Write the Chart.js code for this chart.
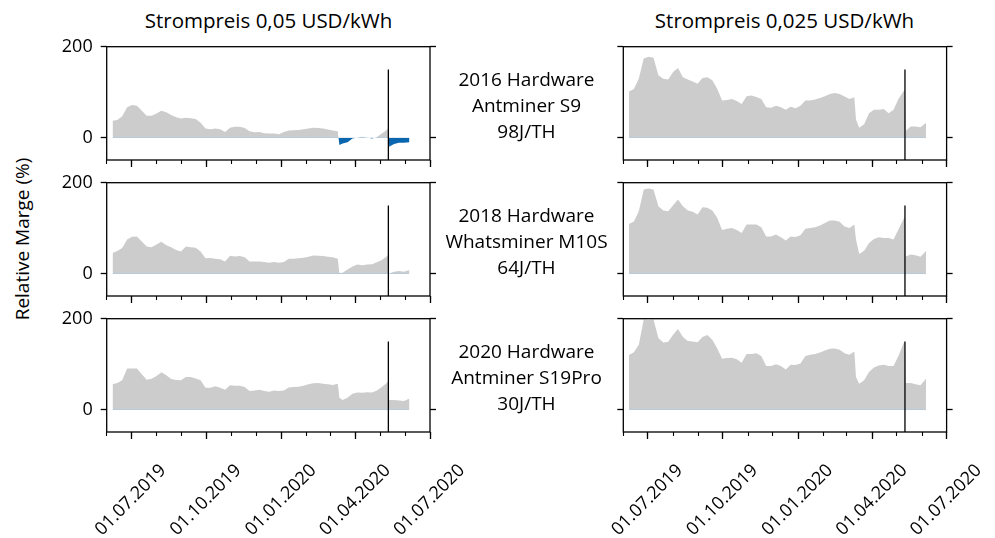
<!DOCTYPE html>
<html>
<head>
<meta charset="utf-8">
<script src="https://cdn.jsdelivr.net/npm/chart.js@4.4.1/dist/chart.umd.min.js"></script>
<style>
body { margin:0; background:#fff; width:995px; height:538px; overflow:hidden; position:relative; font-family:'Open Sans', sans-serif; color:#000; }
.box { position:absolute; }
.txt { position:absolute; font-size:19px; line-height:26px; text-align:center; white-space:nowrap; }
.ttl { font-size:20.5px; }
</style>
</head>
<body>
<div class="box" style="left:40px;top:37px;width:440px;height:143px"><canvas id="c1"></canvas></div>
<div class="box" style="left:555px;top:37px;width:440px;height:143px"><canvas id="c2"></canvas></div>
<div class="box" style="left:40px;top:173px;width:440px;height:143px"><canvas id="c3"></canvas></div>
<div class="box" style="left:555px;top:173px;width:440px;height:143px"><canvas id="c4"></canvas></div>
<div class="box" style="left:40px;top:309px;width:440px;height:229px"><canvas id="c5"></canvas></div>
<div class="box" style="left:555px;top:309px;width:440px;height:229px"><canvas id="c6"></canvas></div>

<div class="txt ttl" style="left:107px;width:323px;top:7px">Strompreis 0,05 USD/kWh</div>
<div class="txt ttl" style="left:623px;width:323px;top:7px">Strompreis 0,025 USD/kWh</div>
<div class="txt" style="left:440px;width:173px;top:66px">2016 Hardware<br>Antminer S9<br>98J/TH</div>
<div class="txt" style="left:440px;width:173px;top:202px">2018 Hardware<br>Whatsminer M10S<br>64J/TH</div>
<div class="txt" style="left:440px;width:173px;top:338px">2020 Hardware<br>Antminer S19Pro<br>30J/TH</div>
<div class="txt" style="left:-68px;width:180px;top:226px;font-size:19px;transform:rotate(-90deg)">Relative Marge (%)</div>

<script>
// Stichtage (gemeinsam fuer alle Panels)
const dates = [
  '2019-06-08','2019-06-14','2019-06-20','2019-06-26','2019-07-02','2019-07-08','2019-07-14','2019-07-20','2019-07-26','2019-08-01',
  '2019-08-07','2019-08-13','2019-08-19','2019-08-25','2019-08-31','2019-09-06','2019-09-12','2019-09-18','2019-09-24','2019-09-30',
  '2019-10-06','2019-10-12','2019-10-18','2019-10-24','2019-10-30','2019-11-05','2019-11-11','2019-11-17','2019-11-23','2019-11-29',
  '2019-12-05','2019-12-11','2019-12-17','2019-12-23','2019-12-29','2020-01-04','2020-01-10','2020-01-16','2020-01-22','2020-01-28',
  '2020-02-03','2020-02-09','2020-02-15','2020-02-21','2020-02-27','2020-03-04','2020-03-10','2020-03-12','2020-03-16','2020-03-22',
  '2020-03-28','2020-04-03','2020-04-09','2020-04-15','2020-04-21','2020-04-27','2020-05-03','2020-05-09','2020-05-11','2020-05-12',
  '2020-05-18','2020-05-24','2020-05-30','2020-06-06'
];

// Strompreis 0,05 USD/kWh
const margin005_S9 = [
  37, 39, 47, 67, 72, 70, 59, 48, 48, 53,
  59, 56, 50, 45, 42, 44, 43, 41, 33, 20,
  18.5, 20, 18.5, 12.6, 22, 24, 24, 21.5, 14, 12,
  12.6, 10, 9, 9, 7.4, 12.6, 15.6, 16.3, 17, 18.5,
  20, 22, 21.5, 20, 17.8, 15.6, 14, -16, -13, -10,
  -2, 0.7, 2, 0.7, -1.5, 1.5, 9, 17, 21.5, -20,
  -14, -11, -11, -10
];
const margin005_M10S = [
  45.6, 50, 56.6, 75, 81, 81.6, 71, 60, 58, 64,
  70, 62.5, 58, 52, 49, 60, 58, 57, 49, 34,
  34.5, 33, 31.6, 27, 39.7, 38, 39, 36, 27, 27,
  27, 25.7, 24, 25.7, 24, 25.7, 33, 33, 34, 35,
  37.5, 40, 39.7, 39, 37.5, 36, 33, 1.5, 2, 9,
  16, 20, 18.4, 20, 21, 25, 30, 38, 42, 0.5,
  4.4, 6, 4.4, 8
];
const margin005_S19Pro = [
  55.7, 58.7, 64.6, 90.6, 90.6, 90.6, 78, 66, 68, 74,
  82.5, 75.8, 67.6, 65.4, 64.6, 72, 72, 68.4, 64.6, 48.3,
  48.3, 51.3, 48.3, 43.8, 53.5, 52.8, 52.8, 49.8, 40.9, 42.4,
  43.8, 40.9, 39.4, 42.4, 40.9, 42.4, 49, 49.8, 50.5, 52.8,
  55.7, 58, 58.7, 57.2, 55.7, 54.2, 57, 26, 21.5, 26,
  35, 37.9, 37.2, 38.6, 37.9, 42.4, 49.8, 58.7, 63, 21.5,
  21.5, 20, 19.3, 24.5
];

// Strompreis 0,025 USD/kWh
const margin0025_S9 = [
  101.5, 107, 130, 174, 178, 175.6, 137, 129.7, 128, 144.5,
  153, 133, 128, 123.7, 118.6, 131, 133, 126, 107.4, 81.5,
  83, 85, 80.8, 74, 91, 92.6, 89.7, 85, 66.7, 66,
  70.4, 66.7, 61.5, 68, 64.5, 70.4, 81.5, 82, 83.7, 87.4,
  91, 96, 98.5, 96, 90.4, 85, 89, 40, 22, 29.6,
  54, 61.5, 61.5, 63, 54, 61.5, 85, 101.5, 106, 14.8,
  24.5, 24.5, 23, 33
];
const margin0025_M10S = [
  109.5, 115, 137, 185, 187, 185, 148.5, 139, 137.5, 150.7,
  163, 148.5, 139, 136, 130, 146, 145, 139, 122.7, 96,
  99, 100.7, 96, 89.7, 108, 108, 108, 102, 81.6, 81.6,
  86, 80, 72.8, 81.6, 80.8, 84.5, 99, 100.7, 102, 106,
  111.7, 117, 117, 114, 104, 100.7, 108, 75, 43.4, 50.7,
  67.6, 76.4, 80, 78.6, 78.6, 75, 97, 119, 126.4, 38,
  42, 40.4, 37.5, 50.7
];
const margin0025_S19Pro = [
  120.4, 126.3, 142.7, 198, 197, 198, 157.5, 147.9, 149.3, 165,
  177.6, 159.7, 150.8, 150, 148, 159.7, 164, 153.8, 135.2, 112,
  113.7, 114.4, 110.7, 103, 122.5, 122.5, 124, 118, 95.8, 95.8,
  100, 95.8, 88.4, 98.8, 98, 101.8, 118, 121, 122.5, 125.5,
  130, 133.7, 134.5, 131.5, 124, 121, 128, 72, 57, 64.6,
  83, 92.8, 97.3, 98.8, 95.8, 95.8, 118, 145, 150, 58.7,
  58.7, 55.7, 53.5, 68.4
];

const yTicks = [0, 200];
const yMin = -49, yMax = 200;
const startDate = '2019-06-01', endDate = '2020-07-01';
const halvingDate = '2020-05-11';
const halvingTop = 150;

function dayNum(s){
  var p = s.split('-');
  return (Date.UTC(+p[0], +p[1]-1, +p[2]) - Date.UTC(2019, 5, 1)) / 86400000;
}

// Monats- und Quartalsticks
var monthTicks = [], quarterTicks = [], tickLabels = {};
for(var i = 0; i <= 13; i++){
  var dt = new Date(Date.UTC(2019, 5 + i, 1));
  var v = (dt.getTime() - Date.UTC(2019, 5, 1)) / 86400000;
  monthTicks.push(v);
  if(dt.getUTCMonth() % 3 === 0){
    quarterTicks.push(v);
    var mm = ('0' + (dt.getUTCMonth() + 1)).slice(-2);
    tickLabels[v] = '01.' + mm + '.' + dt.getUTCFullYear();
  }
}

var framePlugin = {
  id: 'frame',
  afterDraw: function(chart){
    var a = chart.chartArea, c = chart.ctx;
    c.save();
    c.strokeStyle = '#000';
    c.lineWidth = 1.3;
    c.strokeRect(a.left, a.top, a.right - a.left, a.bottom - a.top);
    c.restore();
  }
};

function panel(id, values, col, row){
  var bottomRow = row === 2;
  var yWidth = col === 0 ? 66.7 : 68.3;
  var padRight = col === 0 ? 50 : 48.4;
  var xAxisH = bottomRow ? 106 : 20;
  var tickFont = { family: 'Open Sans', size: 18 };

  new Chart(document.getElementById(id), {
    type: 'line',
    data: {
      datasets: [{
        data: dates.map(function(d, i){ return { x: dayNum(d), y: values[i] }; }),
        borderWidth: 0,
        pointRadius: 0,
        tension: 0,
        fill: { target: 'origin', above: '#cccccc', below: '#0b66b0' },
        order: 2
      }, {
        data: [{ x: dayNum(halvingDate), y: yMin }, { x: dayNum(halvingDate), y: halvingTop }],
        borderColor: '#000',
        borderWidth: 1.3,
        pointRadius: 0,
        fill: false,
        order: 1
      }]
    },
    options: {
      responsive: true,
      maintainAspectRatio: false,
      animation: false,
      events: [],
      layout: { padding: { top: 9.7, right: padRight, left: 0, bottom: 0 } },
      plugins: { legend: { display: false }, tooltip: { enabled: false } },
      scales: {
        x: {
          type: 'linear', position: 'bottom', weight: 1,
          min: dayNum(startDate), max: dayNum(endDate),
          grid: { drawOnChartArea: false, drawTicks: true, tickLength: 7, tickWidth: 1.3, tickColor: '#000' },
          border: { display: false },
          afterBuildTicks: function(s){ s.ticks = quarterTicks.map(function(v){ return { value: v }; }); },
          afterFit: function(s){ s.height = xAxisH; s.paddingLeft = 0; s.paddingRight = 0; },
          ticks: {
            display: bottomRow, autoSkip: false, minRotation: 45, maxRotation: 45,
            labelOffset: 32, padding: 21, color: '#000', font: tickFont,
            callback: function(v){ return tickLabels[v] || ''; }
          }
        },
        xm: {
          type: 'linear', position: 'bottom', weight: 0,
          min: dayNum(startDate), max: dayNum(endDate),
          grid: { drawOnChartArea: false, drawTicks: true, tickLength: 4, tickWidth: 1.1, tickColor: '#000' },
          border: { display: false },
          afterBuildTicks: function(s){ s.ticks = monthTicks.map(function(v){ return { value: v }; }); },
          afterFit: function(s){ s.height = 0; s.paddingLeft = 0; s.paddingRight = 0; },
          ticks: { display: false }
        },
        y: {
          type: 'linear', position: 'left', min: yMin, max: yMax,
          grid: { drawOnChartArea: false, drawTicks: true, tickLength: 6, tickWidth: 1.3, tickColor: '#000' },
          border: { display: false },
          afterBuildTicks: function(s){ s.ticks = yTicks.map(function(v){ return { value: v }; }); },
          afterFit: function(s){ s.width = yWidth; s.paddingTop = 0; s.paddingBottom = 0; },
          ticks: { display: col === 0, padding: 8, color: '#000', font: tickFont }
        },
        yr: {
          type: 'linear', position: 'right', min: yMin, max: yMax,
          grid: { drawOnChartArea: false, drawTicks: true, tickLength: 6, tickWidth: 1.3, tickColor: '#000' },
          border: { display: false },
          afterBuildTicks: function(s){ s.ticks = yTicks.map(function(v){ return { value: v }; }); },
          afterFit: function(s){ s.width = 0; s.paddingTop = 0; s.paddingBottom = 0; },
          ticks: { display: false }
        }
      }
    },
    plugins: [framePlugin]
  });
}

panel('c1', margin005_S9, 0, 0);
panel('c2', margin0025_S9, 1, 0);
panel('c3', margin005_M10S, 0, 1);
panel('c4', margin0025_M10S, 1, 1);
panel('c5', margin005_S19Pro, 0, 2);
panel('c6', margin0025_S19Pro, 1, 2);
</script>
</body>
</html>
